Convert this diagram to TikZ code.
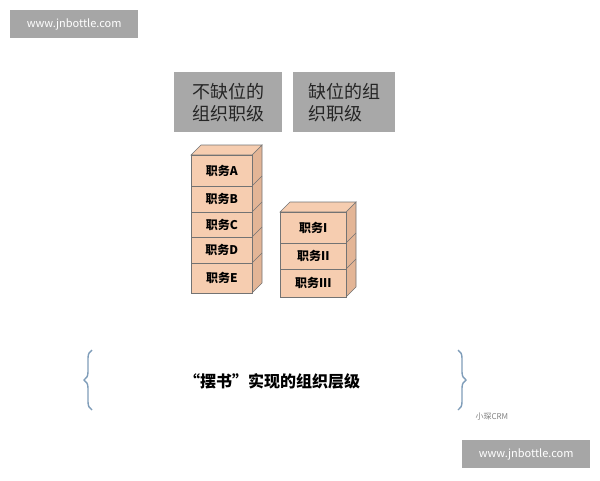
\documentclass[tikz,border=0pt]{standalone}
\usepackage{fontspec}
\setmainfont{Noto Sans CJK SC}
\usetikzlibrary{decorations.pathreplacing}
\definecolor{wmgray}{HTML}{A6A6A6}
\definecolor{tgray}{HTML}{A8A8A8}
\definecolor{peach}{HTML}{F6CDB0}
\definecolor{peachside}{HTML}{E3B596}
\definecolor{bracec}{HTML}{7F9DB9}
\tikzset{
  wm/.style={fill=wmgray,text=white,minimum width=128pt,minimum height=28pt,inner sep=0pt,font=\fontsize{11}{13}\selectfont},
  tbox/.style={fill=tgray,text=black!85,inner sep=0pt,align=left,font=\fontsize{18}{22}\selectfont},
  brick/.style={draw=black!55,fill=peach,line width=0.6pt,inner sep=0pt,font=\fontsize{12}{14}\selectfont\bfseries},
  face/.style={draw=black!55,line width=0.6pt},
}
\begin{document}
\begin{tikzpicture}[x=1pt,y=-1pt]
\useasboundingbox (0,0) rectangle (600,480);
\node[wm,anchor=north west] (w1) at (10,10) {www.jnbottle.com};
\node[wm,anchor=north west] (w2) at (462,440) {www.jnbottle.com};
\node[tbox,anchor=north west,minimum width=108pt,minimum height=60pt] (t1) at (174,72) {不缺位的\\组织职级};
\node[tbox,anchor=north west,minimum width=102pt,minimum height=60pt] (t2) at (293,72) {缺位的组\\织职级};
% left stack
\fill[peachside,face] (252,155) -- (262,145) -- (262,283) -- (252,293) -- cycle;
\fill[peach,face] (191,155) -- (201,145) -- (262,145) -- (252,155) -- cycle;
\foreach \y in {186,212,237,263} \draw[black!55,line width=0.6pt] (252,\y) -- (262,\y-10);
\node[brick,anchor=north west,minimum width=61pt,minimum height=31pt] (a) at (191,155) {职务A};
\node[brick,anchor=north west,minimum width=61pt,minimum height=26pt] (b) at (191,186) {职务B};
\node[brick,anchor=north west,minimum width=61pt,minimum height=25pt] (c) at (191,212) {职务C};
\node[brick,anchor=north west,minimum width=61pt,minimum height=26pt] (d) at (191,237) {职务D};
\node[brick,anchor=north west,minimum width=61pt,minimum height=30pt] (e) at (191,263) {职务E};
% right stack
\fill[peachside,face] (346,212) -- (356,202) -- (356,287) -- (346,297) -- cycle;
\fill[peach,face] (280,212) -- (290,202) -- (356,202) -- (346,212) -- cycle;
\foreach \y in {243,269} \draw[black!55,line width=0.6pt] (346,\y) -- (356,\y-10);
\node[brick,anchor=north west,minimum width=66pt,minimum height=31pt] (i) at (280,212) {职务I};
\node[brick,anchor=north west,minimum width=66pt,minimum height=26pt] (ii) at (280,243) {职务II};
\node[brick,anchor=north west,minimum width=66pt,minimum height=28pt] (iii) at (280,269) {职务III};
% caption with braces
\node[font=\fontsize{16}{18}\selectfont\bfseries] (cap) at (272,381) {“摆书”实现的组织层级};
\coordinate (lb1) at (92,410); \coordinate (lb2) at (92,350);
\coordinate (rb1) at (458,350); \coordinate (rb2) at (458,410);
\draw[bracec,line width=1.4pt,decorate,decoration={brace,amplitude=8pt}] (lb1) -- (lb2);
\draw[bracec,line width=1.4pt,decorate,decoration={brace,amplitude=8pt}] (rb1) -- (rb2);
\node[text=black!50,font=\fontsize{8}{9}\selectfont,anchor=west] (logo) at (472,417) {小琛CRM};
\end{tikzpicture}
\end{document}
